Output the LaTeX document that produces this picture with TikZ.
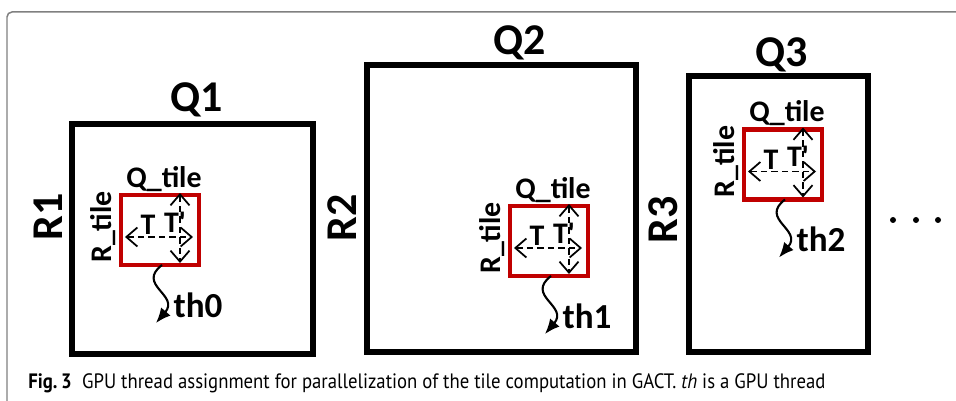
\documentclass[tikz,border=0pt]{standalone}
\usepackage{fontspec}
\setmainfont{Carlito}
\newfontfamily\capfont[FakeStretch=0.9]{PT Sans}
\usetikzlibrary{arrows.meta,positioning}
\definecolor{tilered}{RGB}{192,0,0}

\begin{document}
\begin{tikzpicture}[x=0.02cm,y=-0.02cm,
  bigbox/.style={draw,line width=3.4pt,inner sep=0pt,outer sep=0pt},
  tilebox/.style={draw=tilered,line width=2.3pt,inner sep=0pt,outer sep=0pt,minimum width=1.56cm,minimum height=1.4cm},
  biglabel/.style={font=\bfseries\fontsize{25}{29}\selectfont,inner sep=0pt},
  smalllabel/.style={font=\bfseries\fontsize{17}{20}\selectfont,inner sep=0pt},
  thlabel/.style={font=\bfseries\fontsize{20}{24}\selectfont,inner sep=0pt},
  dimarrow/.style={dash pattern=on 3.6pt off 2.4pt,line width=1pt,
    {Straight Barb[length=2.2mm,width=3.8mm]}-{Straight Barb[length=2.2mm,width=3.8mm]}},
  thread/.style={line width=1.2pt,-{Latex[length=3mm,width=2.5mm]}}]
  \useasboundingbox (0,0) rectangle (956,401);
  % page frame
  \draw[gray,line width=0.85pt,rounded corners=0.1cm] (7,401) -- (7,12) -- (956,12);

  % query/reference blocks
  \node[bigbox,minimum width=4.82cm,minimum height=4.6cm] (blk1) at (192.5,239) {};
  \node[bigbox,minimum width=5.38cm,minimum height=5.74cm] (blk2) at (501.5,208.5) {};
  \node[bigbox,minimum width=3.58cm,minimum height=5.52cm] (blk3) at (778.5,214) {};
  \node[biglabel] (q1) at (197,100) {Q1};
  \node[biglabel] (q2) at (520,43) {Q2};
  \node[biglabel] (q3) at (782,55) {Q3};
  \node[biglabel,rotate=90] (r1) at (48,217) {R1};
  \node[biglabel,rotate=90] (r2) at (342,218) {R2};
  \node[biglabel,rotate=90] (r3) at (663,220) {R3};

  % one tile per thread
  \foreach \i/\cx/\cy in {0/160/230,1/549/241,2/783/164.5}{
    \node[tilebox] (tile\i) at (\cx,\cy) {};
    \node[smalllabel,anchor=south] (qt\i) at ([shift={(4,-3)}]tile\i.north) {Q\_tile};
    \node[smalllabel,rotate=90] (rt\i) at ([shift={(-18,-3)}]tile\i.west) {R\_tile};
    \node[smalllabel] (t\i) at ([shift={(27,30)}]tile\i.north west) {T};
    \node[smalllabel] (tp\i) at ([shift={(54,27)}]tile\i.north west) {T\textquotesingle};
    \draw[dimarrow] ([shift={(4,7)}]tile\i.west) -- ([shift={(-6,7)}]tile\i.east);
    \draw[dimarrow] ([shift={(-19,-2)}]tile\i.north east) -- ([shift={(-19,-2)}]tile\i.south east);
    \coordinate (end\i) at ([shift={(-4,58)}]tile\i.south);
    \draw[thread] ([shift={(2,0)}]tile\i.south) .. controls +(-26,20) and +(24,-28) .. (end\i);
    \node[thlabel] (th\i) at ([shift={(77,40)}]tile\i.south west) {th\i};
  }

  % more blocks follow
  \foreach \x in {893,916,938} \fill (\x,220) circle (0.06cm);

  \node[anchor=base west,inner sep=0pt,font=\capfont\fontsize{11.85}{14}\selectfont] (cap) at (28,389)
    {\textbf{Fig.\,3}\enspace GPU thread assignment for parallelization of the tile computation in GACT. \textit{th} is a GPU thread};
\end{tikzpicture}
\end{document}
